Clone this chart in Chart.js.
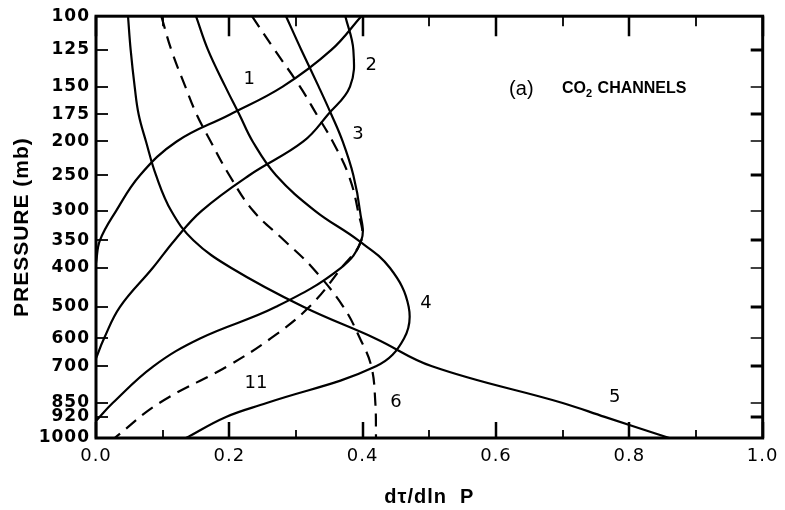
<!DOCTYPE html>
<html>
<head>
<meta charset="utf-8">
<script src="https://cdn.jsdelivr.net/npm/chart.js@4.4.1/dist/chart.umd.min.js"></script>
<style>
  body { margin: 0; background: #fff; }
  canvas { display: block; }
</style>
</head>
<body>
<canvas id="chart" width="785" height="510"></canvas>
<script>
// pressure tick labels (mb) and where each sits down the hand-drawn axis (0 = top, 1 = bottom)
const pressureTicks = [100, 125, 150, 175, 200, 250, 300, 350, 400, 500, 600, 700, 850, 920, 1000];
const pressureTickFrac = [0, 0.080, 0.167, 0.233, 0.297, 0.377, 0.462, 0.531, 0.597, 0.689, 0.764, 0.830, 0.917, 0.950, 1];
const xTicks = [0, 0.2, 0.4, 0.6, 0.8, 1.0];

// weighting functions dT/dlnP, one pair of arrays per channel
const ch1P = [100, 125, 150, 175, 200, 250, 300, 350, 390];
const ch1X = [0.398, 0.353, 0.280, 0.201, 0.121, 0.066, 0.030, 0.006, 0];

const ch2P = [100, 125, 150, 175, 200, 250, 300, 350, 400, 500, 600, 670];
const ch2X = [0.374, 0.386, 0.381, 0.348, 0.311, 0.230, 0.158, 0.118, 0.085, 0.036, 0.012, 0];

const ch3P = [100, 125, 150, 175, 200, 250, 300, 350, 400, 500, 600, 700, 850, 935];
const ch3X = [0.285, 0.308, 0.334, 0.353, 0.370, 0.386, 0.396, 0.398, 0.367, 0.270, 0.156, 0.086, 0.025, 0];

const ch4P = [100, 125, 150, 175, 200, 250, 300, 350, 400, 500, 600, 700, 850, 920, 1000];
const ch4X = [0.150, 0.168, 0.194, 0.215, 0.235, 0.270, 0.329, 0.393, 0.441, 0.469, 0.462, 0.420, 0.256, 0.195, 0.135];

const ch5P = [100, 125, 150, 175, 200, 250, 300, 350, 400, 500, 600, 700, 850, 920, 1000];
const ch5X = [0.048, 0.052, 0.058, 0.064, 0.075, 0.090, 0.113, 0.146, 0.203, 0.311, 0.419, 0.504, 0.700, 0.763, 0.860];

const ch6P = [100, 125, 150, 175, 200, 250, 300, 350, 400, 500, 600, 700, 850, 1000];
const ch6X = [0.098, 0.113, 0.134, 0.151, 0.172, 0.200, 0.236, 0.282, 0.325, 0.371, 0.396, 0.413, 0.419, 0.420];

const ch11P = [100, 125, 150, 175, 200, 250, 300, 350, 400, 500, 600, 700, 850, 1000];
const ch11X = [0.234, 0.268, 0.306, 0.331, 0.355, 0.379, 0.393, 0.398, 0.368, 0.320, 0.262, 0.197, 0.095, 0.028];

// curve labels: text, x value, pressure
const labelText = ['1', '2', '3', '4', '5', '6', '11'];
const labelX = [0.230, 0.413, 0.393, 0.495, 0.778, 0.450, 0.240];
const labelP = [145, 135, 193, 489, 826, 846, 765];

function pressureFrac(p) {
    const lp = Math.log(p);
    for (let i = 1; i < pressureTicks.length; i++) {
        if (p <= pressureTicks[i] || i === pressureTicks.length - 1) {
            const l0 = Math.log(pressureTicks[i - 1]), l1 = Math.log(pressureTicks[i]);
            const t = (lp - l0) / (l1 - l0);
            return pressureTickFrac[i - 1] + t * (pressureTickFrac[i] - pressureTickFrac[i - 1]);
        }
    }
    return 0;
}

class PressureScale extends Chart.LinearScale {
    buildTicks() {
        return pressureTicks.map(v => ({ value: v }));
    }
    getPixelForValue(value) {
        return this.getPixelForDecimal(pressureFrac(value));
    }
    getValueForPixel(pixel) {
        const d = this.getDecimalForPixel(pixel);
        for (let i = 1; i < pressureTicks.length; i++) {
            if (d <= pressureTickFrac[i] || i === pressureTicks.length - 1) {
                const t = (d - pressureTickFrac[i - 1]) / (pressureTickFrac[i] - pressureTickFrac[i - 1]);
                const l0 = Math.log(pressureTicks[i - 1]), l1 = Math.log(pressureTicks[i]);
                return Math.exp(l0 + t * (l1 - l0));
            }
        }
        return pressureTicks[0];
    }
}
PressureScale.id = 'pressure';
PressureScale.defaults = {};
Chart.register(PressureScale);

function toPoints(px, py) {
    return px.map((x, i) => ({ x: x, y: py[i] }));
}

function curve(label, xs, ps, dashed) {
    return {
        label: label,
        data: toPoints(xs, ps),
        showLine: true,
        borderColor: '#000',
        borderWidth: 2.2,
        borderDash: dashed ? [13, 8] : [],
        pointRadius: 0,
        tension: 0.4,
        fill: false
    };
}

// the original axis lettering is widely spaced
const spacing = {
    id: 'spacing',
    beforeDraw(chart) { chart.ctx.letterSpacing = '1px'; },
    afterDraw(chart) { chart.ctx.letterSpacing = '0px'; }
};

const frameAndText = {
    id: 'frameAndText',
    afterDatasetsDraw(chart) {
        const { ctx, chartArea: a, scales: { x, y } } = chart;
        ctx.save();
        ctx.strokeStyle = '#000';
        ctx.lineCap = 'butt';

        // x ticks, pointing inwards on top and bottom
        for (let i = 0; i <= 10; i++) {
            const px = Math.round(x.getPixelForValue(i / 10));
            const major = i % 2 === 0;
            ctx.lineWidth = major ? 2.5 : 1.8;
            ctx.beginPath();
            ctx.moveTo(px, a.bottom);
            ctx.lineTo(px, a.bottom - (major ? 16 : 8));
            ctx.moveTo(px, a.top);
            ctx.lineTo(px, a.top + (major ? 20 : 10));
            ctx.stroke();
        }

        // y ticks, left and right
        pressureTicks.forEach((p, i) => {
            if (i === 0 || i === pressureTicks.length - 1) return;
            const py = Math.round(y.getPixelForValue(p));
            ctx.lineWidth = 1.8;
            ctx.beginPath();
            ctx.moveTo(a.left, py);
            ctx.lineTo(a.left + 12, py);
            ctx.stroke();
            ctx.lineWidth = i % 2 === 1 ? 3 : 1.5;
            ctx.beginPath();
            ctx.moveTo(a.right, py);
            ctx.lineTo(a.right - 12, py);
            ctx.stroke();
        });

        // frame
        ctx.lineWidth = 3;
        ctx.strokeRect(a.left, a.top, a.right - a.left, a.bottom - a.top);

        // curve numbers
        ctx.fillStyle = '#000';
        ctx.letterSpacing = '0px';
        ctx.font = '18px "DejaVu Sans"';
        ctx.textAlign = 'center';
        ctx.textBaseline = 'middle';
        labelText.forEach((t, i) => {
            ctx.fillText(t, x.getPixelForValue(labelX[i]), y.getPixelForValue(labelP[i]));
        });

        // panel caption
        const cy = y.getPixelForValue(152);
        ctx.font = '20px "Liberation Sans"';
        ctx.fillText('(a)', x.getPixelForValue(0.638), cy);
        ctx.textAlign = 'left';
        let cx = x.getPixelForValue(0.699);
        ctx.font = 'bold 16px "Liberation Sans"';
        ctx.fillText('CO', cx, cy);
        cx += ctx.measureText('CO').width;
        ctx.font = 'bold 11px "Liberation Sans"';
        ctx.fillText('2', cx, cy + 5);
        cx += ctx.measureText('2').width + 1;
        ctx.font = 'bold 16px "Liberation Sans"';
        ctx.fillText(' CHANNELS', cx, cy);
        ctx.restore();
    }
};

new Chart(document.getElementById('chart'), {
    type: 'scatter',
    data: {
        datasets: [
            curve('1', ch1X, ch1P, false),
            curve('2', ch2X, ch2P, false),
            curve('3', ch3X, ch3P, false),
            curve('4', ch4X, ch4P, false),
            curve('5', ch5X, ch5P, false),
            curve('6', ch6X, ch6P, true),
            curve('11', ch11X, ch11P, true)
        ]
    },
    options: {
        responsive: false,
        animation: false,
        devicePixelRatio: 1,
        layout: { padding: { top: 14, right: 18, left: 0, bottom: 0 } },
        plugins: {
            legend: { display: false },
            tooltip: { enabled: false }
        },
        scales: {
            x: {
                type: 'linear',
                min: 0,
                max: 1,
                afterBuildTicks: s => { s.ticks = xTicks.map(v => ({ value: v })); },
                afterFit: s => { s.height = 72; },
                grid: { display: false, drawTicks: false },
                border: { display: false },
                ticks: {
                    padding: 8,
                    color: '#000',
                    font: { family: 'DejaVu Sans', size: 18 },
                    callback: v => v.toFixed(1)
                },
                title: {
                    display: true,
                    text: 'dτ/dln  P',
                    color: '#000',
                    font: { family: 'Liberation Sans', size: 20, weight: 'bold' },
                    padding: { top: 0, bottom: 1 }
                }
            },
            y: {
                type: 'pressure',
                position: 'left',
                reverse: true,
                min: 100,
                max: 1000,
                afterFit: s => { s.width = 96; },
                grid: { display: false, drawTicks: false },
                border: { display: false },
                ticks: {
                    autoSkip: false,
                    padding: 6,
                    color: '#000',
                    font: { family: 'DejaVu Sans', size: 17, weight: 'bold' },
                    callback: v => String(v)
                },
                title: {
                    display: true,
                    text: 'PRESSURE (mb)',
                    color: '#000',
                    font: { family: 'Liberation Sans', size: 21, weight: 'bold' },
                    padding: { top: 10, bottom: 0 }
                }
            }
        }
    },
    plugins: [spacing, frameAndText]
});
</script>
</body>
</html>
